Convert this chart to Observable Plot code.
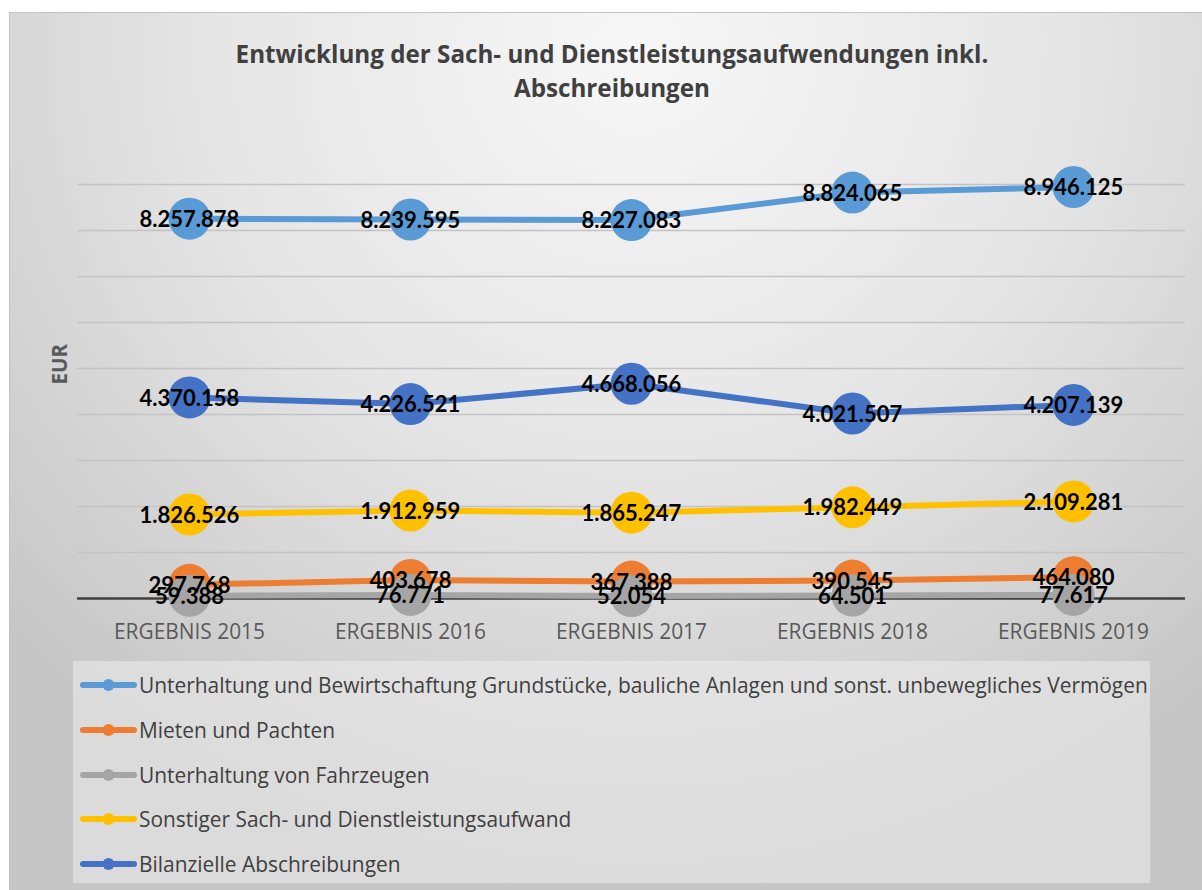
<!DOCTYPE html>
<html>
<head>
<meta charset="utf-8">
<script src="https://cdn.jsdelivr.net/npm/d3@7"></script>
<script src="https://cdn.jsdelivr.net/npm/@observablehq/plot@0.6"></script>
<style>
  html, body { margin: 0; padding: 0; background: #ffffff; }
  #frame {
    position: absolute; left: 9px; top: 12px; width: 1210px; height: 890px;
    border: 1px solid #c2c2c2; box-sizing: border-box; overflow: hidden;
    background: radial-gradient(ellipse 72% 95% at 52% 4%, #f7f7f7 0%, #e5e5e5 50%, #c6c6c6 100%);
  }
  #title {
    position: absolute; left: 0; top: 24px; width: 1204px; text-align: center;
    font-family: "Open Sans", sans-serif; font-weight: bold; font-size: 24.2px;
    line-height: 34px; color: #404040;
  }
  #chart { position: absolute; left: 0; top: 109px; }
  #legend {
    position: absolute; left: 63px; top: 648px; width: 1077px; height: 222px;
    background: rgba(236,236,236,0.55);
    font-family: "Open Sans", sans-serif; font-size: 20.9px; color: #404040;
  }
  .item { position: absolute; left: 7px; height: 30px; display: flex; align-items: center; white-space: nowrap; }
  .item svg { flex: none; margin-right: 2px; }
</style>
</head>
<body>
<div id="frame">
  <div id="title">Entwicklung der Sach- und Dienstleistungsaufwendungen inkl.<br>Abschreibungen</div>
  <div id="chart"></div>
  <div id="legend"></div>
</div>
<script>
const years = ["ERGEBNIS 2015", "ERGEBNIS 2016", "ERGEBNIS 2017", "ERGEBNIS 2018", "ERGEBNIS 2019"];
const seriesNames = [
  "Unterhaltung und Bewirtschaftung Grundstücke, bauliche Anlagen und sonst. unbewegliches Vermögen",
  "Mieten und Pachten",
  "Unterhaltung von Fahrzeugen",
  "Sonstiger Sach- und Dienstleistungsaufwand",
  "Bilanzielle Abschreibungen"
];
const seriesColors = ["#5B9BD5", "#ED7D31", "#A5A5A5", "#FFC000", "#4472C4"];
const unterhaltungGrundstuecke = [8257878, 8239595, 8227083, 8824065, 8946125];
const mietenPachten = [297768, 403678, 367388, 390545, 464080];
const unterhaltungFahrzeuge = [59388, 76771, 52054, 64501, 77617];
const sonstigerAufwand = [1826526, 1912959, 1865247, 1982449, 2109281];
const bilanzielleAbschreibungen = [4370158, 4226521, 4668056, 4021507, 4207139];
const yTicks = [1000000, 2000000, 3000000, 4000000, 5000000, 6000000, 7000000, 8000000, 9000000];
const yLabel = "EUR";

const seriesValues = [unterhaltungGrundstuecke, mietenPachten, unterhaltungFahrzeuge, sonstigerAufwand, bilanzielleAbschreibungen];
const data = seriesNames.flatMap((s, i) => years.map((y, j) => ({series: s, color: seriesColors[i], year: y, value: seriesValues[i][j]})));
const de = d3.formatLocale({decimal: ",", thousands: ".", grouping: [3], currency: ["", " €"]});
const fmt = de.format(",d");

const seriesMarks = seriesNames.flatMap((s, i) => {
  const d = data.filter(r => r.series === s);
  return [
    Plot.line(d, {x: "year", y: "value", stroke: seriesColors[i], strokeWidth: 6}),
    Plot.dot(d, {x: "year", y: "value", r: 21, fill: seriesColors[i], stroke: "none"})
  ];
});

const chart = Plot.plot({
  width: 1192,
  height: 530,
  marginLeft: 67,
  marginRight: 17,
  marginTop: 62,
  marginBottom: 54,
  style: {background: "transparent", color: "#595959", fontFamily: "Open Sans, sans-serif"},
  x: {type: "point", domain: years, padding: 0.5},
  y: {domain: [0, 9000000], axis: null},
  marks: [
    Plot.gridY(yTicks, {stroke: "#c3c3c3", strokeOpacity: 1, strokeWidth: 1.5}),
    Plot.ruleY([0], {stroke: "#404040", strokeWidth: 2.5}),
    ...seriesMarks,
    Plot.text(data, {x: "year", y: "value", text: d => fmt(d.value), fill: "#000", fontSize: 22, fontWeight: "bold", fontFamily: "Lato, sans-serif", dy: 1}),
    Plot.axisX({tickSize: 0, tickPadding: 26, fontSize: 20.9, label: null, fill: "#595959"}),
    Plot.text([yLabel], {frameAnchor: "left", dx: -17, dy: -7, rotate: -90, fontSize: 20.5, fontWeight: "bold", fill: "#595959", fontFamily: "Open Sans, sans-serif"})
  ]
});
document.getElementById("chart").appendChild(chart);

const legend = document.getElementById("legend");
seriesNames.forEach((s, i) => {
  const item = document.createElement("div");
  item.className = "item";
  item.style.top = (24 + i * 44.75 - 15) + "px";
  item.innerHTML = `<svg width="57" height="14"><line x1="3" y1="7" x2="54" y2="7" stroke="${seriesColors[i]}" stroke-width="6" stroke-linecap="round"/><circle cx="28.5" cy="7" r="6" fill="${seriesColors[i]}"/></svg><span></span>`;
  item.querySelector("span").textContent = s;
  legend.appendChild(item);
});
</script>
</body>
</html>
